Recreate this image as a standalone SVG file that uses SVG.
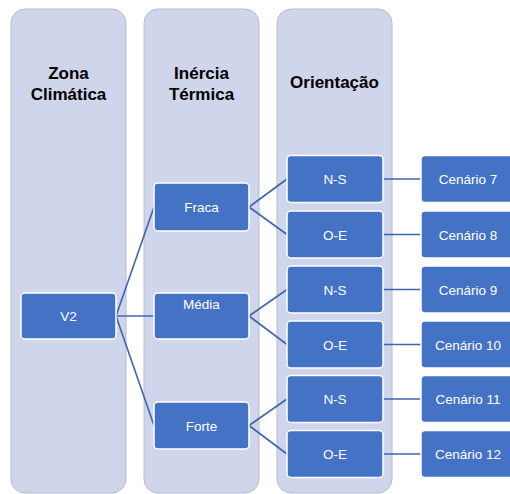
<svg xmlns="http://www.w3.org/2000/svg" width="510" height="494" viewBox="0 0 510 494">
<style>
.lane{fill:#CFD5EA;stroke:#B7BCCD;stroke-width:1}
.hdr{font-family:"Liberation Sans",Arial,sans-serif;font-weight:bold;font-size:17px;fill:#000;text-anchor:middle}
.node rect{fill:#4472C4;stroke:#FFFFFF;stroke-width:1.5}
.node text{font-family:"Liberation Sans",Arial,sans-serif;font-size:13.5px;fill:#FFFFFF;text-anchor:middle}
.conn line{stroke:#3F64AE;stroke-width:1.6;fill:none}
</style>
<rect width="510" height="494" fill="#FFFFFF"/>
<g id="lanes">
<rect class="lane" x="11" y="9" width="115" height="484" rx="14"/>
<rect class="lane" x="144" y="9" width="115" height="484" rx="14"/>
<rect class="lane" x="277" y="9" width="115" height="484" rx="14"/>
<text class="hdr" x="68.5" y="79">Zona</text>
<text class="hdr" x="68.5" y="99.5">Climática</text>
<text class="hdr" x="201.5" y="79">Inércia</text>
<text class="hdr" x="201.5" y="99.5">Térmica</text>
<text class="hdr" x="334.5" y="88">Orientação</text>
</g>
<g id="connectors" class="conn">
<line x1="116" y1="316" x2="154" y2="207"/>
<line x1="116" y1="316" x2="154" y2="316"/>
<line x1="116" y1="316" x2="154" y2="425.5"/>
<line x1="249" y1="207" x2="287" y2="179"/>
<line x1="249" y1="207" x2="287" y2="234.5"/>
<line x1="249" y1="316" x2="287" y2="289.5"/>
<line x1="249" y1="316" x2="287" y2="344.5"/>
<line x1="249" y1="425.5" x2="287" y2="399"/>
<line x1="249" y1="425.5" x2="287" y2="454"/>
<line x1="383" y1="179" x2="421" y2="179"/>
<line x1="383" y1="234.5" x2="421" y2="234.5"/>
<line x1="383" y1="289.5" x2="421" y2="289.5"/>
<line x1="383" y1="344.5" x2="421" y2="344.5"/>
<line x1="383" y1="399" x2="421" y2="399"/>
<line x1="383" y1="454" x2="421" y2="454"/>
</g>
<g id="v2" class="node"><rect x="21" y="293" width="95" height="46" rx="4"/><text x="68.5" y="321">V2</text></g>
<g id="fraca" class="node"><rect x="154" y="183" width="95" height="48" rx="4"/><text x="201.5" y="212">Fraca</text></g>
<g id="media" class="node"><rect x="154" y="293" width="95" height="46" rx="4"/><text x="201.5" y="308.5">Média</text></g>
<g id="forte" class="node"><rect x="154" y="402" width="95" height="47" rx="4"/><text x="201.5" y="430.5">Forte</text></g>
<g id="ns1" class="node"><rect x="287" y="155.5" width="96" height="47" rx="4"/><text x="335" y="184">N-S</text></g>
<g id="oe1" class="node"><rect x="287" y="211" width="96" height="47" rx="4"/><text x="335" y="239.5">O-E</text></g>
<g id="ns2" class="node"><rect x="287" y="266" width="96" height="47" rx="4"/><text x="335" y="294.5">N-S</text></g>
<g id="oe2" class="node"><rect x="287" y="321" width="96" height="47" rx="4"/><text x="335" y="349.5">O-E</text></g>
<g id="ns3" class="node"><rect x="287" y="375.5" width="96" height="47" rx="4"/><text x="335" y="404">N-S</text></g>
<g id="oe3" class="node"><rect x="287" y="430.5" width="96" height="47" rx="4"/><text x="335" y="459">O-E</text></g>
<g id="c7" class="node"><rect x="421" y="155.5" width="95" height="47" rx="4"/><text x="468" y="184">Cenário 7</text></g>
<g id="c8" class="node"><rect x="421" y="211" width="95" height="47" rx="4"/><text x="468" y="239.5">Cenário 8</text></g>
<g id="c9" class="node"><rect x="421" y="266" width="95" height="47" rx="4"/><text x="468" y="294.5">Cenário 9</text></g>
<g id="c10" class="node"><rect x="421" y="321" width="95" height="47" rx="4"/><text x="468" y="349.5">Cenário 10</text></g>
<g id="c11" class="node"><rect x="421" y="375.5" width="95" height="47" rx="4"/><text x="468" y="404">Cenário 11</text></g>
<g id="c12" class="node"><rect x="421" y="430.5" width="95" height="47" rx="4"/><text x="468" y="459">Cenário 12</text></g>
</svg>
